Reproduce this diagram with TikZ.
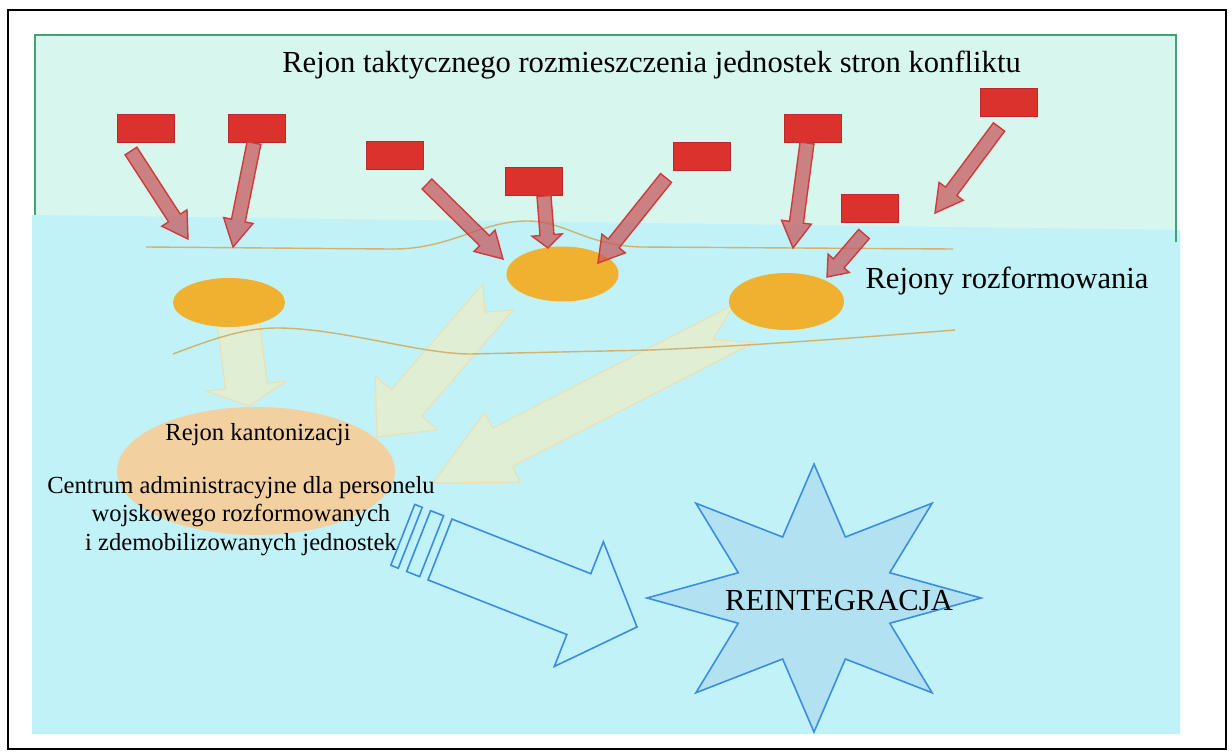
\documentclass[tikz,border=0pt]{standalone}
\usepackage{fontspec}
\setmainfont{Liberation Serif}
\usepackage{tikz}
\usetikzlibrary{calc, shapes.geometric}

\definecolor{topbg}{RGB}{214,246,238}
\definecolor{lowbg}{RGB}{192,242,248}
\definecolor{frameg}{RGB}{70,160,115}
\definecolor{unitred}{RGB}{220,50,45}
\definecolor{arrred}{RGB}{208,58,58}
\definecolor{arrfill}{RGB}{200,90,95}
\definecolor{zoneor}{RGB}{240,176,48}
\definecolor{cantor}{RGB}{242,208,160}
\definecolor{pale}{RGB}{228,238,208}
\definecolor{paleedge}{RGB}{238,222,176}
\definecolor{ridgec}{RGB}{210,178,110}
\definecolor{reblue}{RGB}{60,140,225}
\definecolor{starfill}{RGB}{178,226,242}

% block arrow: [style]{tail}{tip}{shaft half}{head half}{head length}{notch}
\newcommand\fatarrow[7][]{%
  \coordinate (fa-b) at ($(#3)!#6!(#2)$);
  \coordinate (fa-n) at ($(#2)!#7!(#3)$);
  \path[#1] (fa-n) -- ($(#2)!#4!90:(#3)$) -- ($(fa-b)!#4!90:(#3)$)
    -- ($(fa-b)!#5!90:(#3)$) -- (#3) -- ($(fa-b)!#5!-90:(#3)$)
    -- ($(fa-b)!#4!-90:(#3)$) -- ($(#2)!#4!-90:(#3)$) -- cycle;
}

\begin{document}
\begin{tikzpicture}[x=0.5pt, y=-0.5pt,
  unitbox/.style={draw=unitred!85!black, line width=0.3pt, fill=unitred,
                  minimum width=28.5pt, minimum height=14pt, inner sep=0pt},
  zone/.style={ellipse, fill=zoneor, inner sep=0pt},
  redarr/.style={draw=arrred, fill=arrfill, fill opacity=0.75,
                 line width=0.7pt, line join=miter},
  palearr/.style={draw=paleedge, fill=pale, fill opacity=0.9, line width=0.5pt},
  blarr/.style={draw=reblue, line width=0.8pt, line join=miter},
  ridge/.style={draw=ridgec, line width=0.7pt},
  lbl/.style={font=\fontsize{15.3}{18}\selectfont, anchor=base, inner sep=0pt},
  smalltxt/.style={font=\fontsize{12.3}{14.25}\selectfont, inner sep=0pt}
]
  % page and frame
  \fill[white] (0,0) rectangle (1232,755);
  \useasboundingbox (0,0) rectangle (1232,755);
  \draw[line width=1pt] (8,10) rectangle (1226,749);

  % background areas
  \fill[topbg] (35,35) rectangle (1176,242);
  \fill[lowbg] (32,215) -- (1180,230) -- (1180,734) -- (32,734) -- cycle;
  \draw[frameg, line width=0.7pt] (35,215) -- (35,35) -- (1176,35) -- (1176,242);

  \node[lbl] (title) at (651.5,72)
    {Rejon taktycznego rozmieszczenia jednostek stron konfliktu};

  % pale arrows towards the cantonment
  \coordinate (p1t) at (236,305);   \coordinate (p1h) at (249,406);
  \coordinate (p2t) at (498,297);   \coordinate (p2h) at (377,437);
  \coordinate (p3t) at (744,323.5); \coordinate (p3h) at (433,483);
  \fatarrow[palearr]{p1t}{p1h}{10.5pt}{20pt}{10pt}{0pt}
  \fatarrow[palearr]{p2t}{p2h}{10pt}{20.5pt}{22.5pt}{10pt}
  \fatarrow[palearr]{p3t}{p3h}{10.75pt}{19.5pt}{39pt}{17.5pt}

  % lines
  \draw[ridge] (146,247) -- (390,249) .. controls (450,250) and (480,221) .. (527,221)
    .. controls (565,221) and (585,245) .. (640,247) -- (953,249);
  \draw[ridge] (173,354) .. controls (215,338) and (245,328) .. (277,328)
    .. controls (340,328) and (420,354) .. (470,354) -- (650,350)
    .. controls (750,346) and (880,336) .. (955,330);

  % disbandment areas
  \node[zone, minimum width=56pt, minimum height=24.5pt] (z1) at (229,302.5) {};
  \node[zone, minimum width=56pt, minimum height=27.5pt] (z2) at (562.5,274) {};
  \node[zone, minimum width=57.5pt, minimum height=28.5pt] (z3) at (786.5,301.5) {};

  % units
  \node[unitbox] (u1) at (145.5,128) {};
  \node[unitbox] (u2) at (257,128.5) {};
  \node[unitbox] (u3) at (395,155) {};
  \node[unitbox] (u4) at (534,181.5) {};
  \node[unitbox] (u5) at (702,156) {};
  \node[unitbox] (u6) at (813,128.5) {};
  \node[unitbox] (u7) at (1009,102.5) {};
  \node[unitbox] (u8) at (870,208.5) {};

  \coordinate (t1) at (131,151);  \coordinate (h1) at (188,239);
  \coordinate (t2) at (254,143);  \coordinate (h2) at (233,247);
  \coordinate (t3) at (427,184);  \coordinate (h3) at (503,259);
  \coordinate (t4) at (544,196);  \coordinate (h4) at (548,248);
  \coordinate (t5) at (666,178);  \coordinate (h5) at (598,263);
  \coordinate (t6) at (807,143);  \coordinate (h6) at (793,248);
  \coordinate (t7) at (999,127);  \coordinate (h7) at (935,213);
  \coordinate (t8) at (864,234);  \coordinate (h8) at (827,277);
  \fatarrow[redarr]{t1}{h1}{3.5pt}{7.5pt}{12.5pt}{0pt}
  \fatarrow[redarr]{t2}{h2}{3.5pt}{7.5pt}{13.5pt}{0pt}
  \fatarrow[redarr]{t3}{h3}{3.5pt}{7.5pt}{13pt}{0pt}
  \fatarrow[redarr]{t4}{h4}{3.5pt}{7.5pt}{6.5pt}{0pt}
  \fatarrow[redarr]{t5}{h5}{3.5pt}{7.5pt}{12.5pt}{0pt}
  \fatarrow[redarr]{t6}{h6}{3.5pt}{7.5pt}{13pt}{0pt}
  \fatarrow[redarr]{t7}{h7}{3.5pt}{7.5pt}{13.5pt}{0pt}
  \fatarrow[redarr]{t8}{h8}{3.5pt}{7pt}{9pt}{0pt}

  \node[lbl] (rozf) at (1007,288) {Rejony rozformowania};

  % cantonment
  \node[ellipse, fill=cantor, minimum width=139pt, minimum height=64pt,
        inner sep=0pt] (kant) at (256,471) {};
  \node[smalltxt, anchor=base] (kantl) at (258,440) {Rejon kantonizacji};
  \node[smalltxt, align=center, anchor=north] (centrum) at (241,476)
    {Centrum administracyjne dla personelu\\wojskowego rozformowanych\\
     i zdemobilizowanych jednostek};

  % reintegration
  \coordinate (bt) at (440,549.5); \coordinate (bh) at (637,627);
  \fatarrow[blarr, fill=lowbg]{bt}{bh}{16.35pt}{33.5pt}{31.25pt}{0pt}
  \begin{scope}[shift={(bt)}, rotate=-21.5]
    \draw[blarr] (-23,-32.7) rectangle (-9,32.7);
    \draw[blarr] (-40,-32.7) rectangle (-32,32.7);
  \end{scope}

  \coordinate (reint) at (814,598);
  \begin{scope}[shift={(reint)}]
    \draw[blarr, fill=starfill] (0:167 and 134)
      \foreach \i in {0,...,7} {
        -- ({45*\i+22.5}:82 and 66) -- ({45*\i+45}:167 and 134)
      } -- cycle;
  \end{scope}
  \node[lbl] (reintl) at (839,610) {REINTEGRACJA};
\end{tikzpicture}
\end{document}
